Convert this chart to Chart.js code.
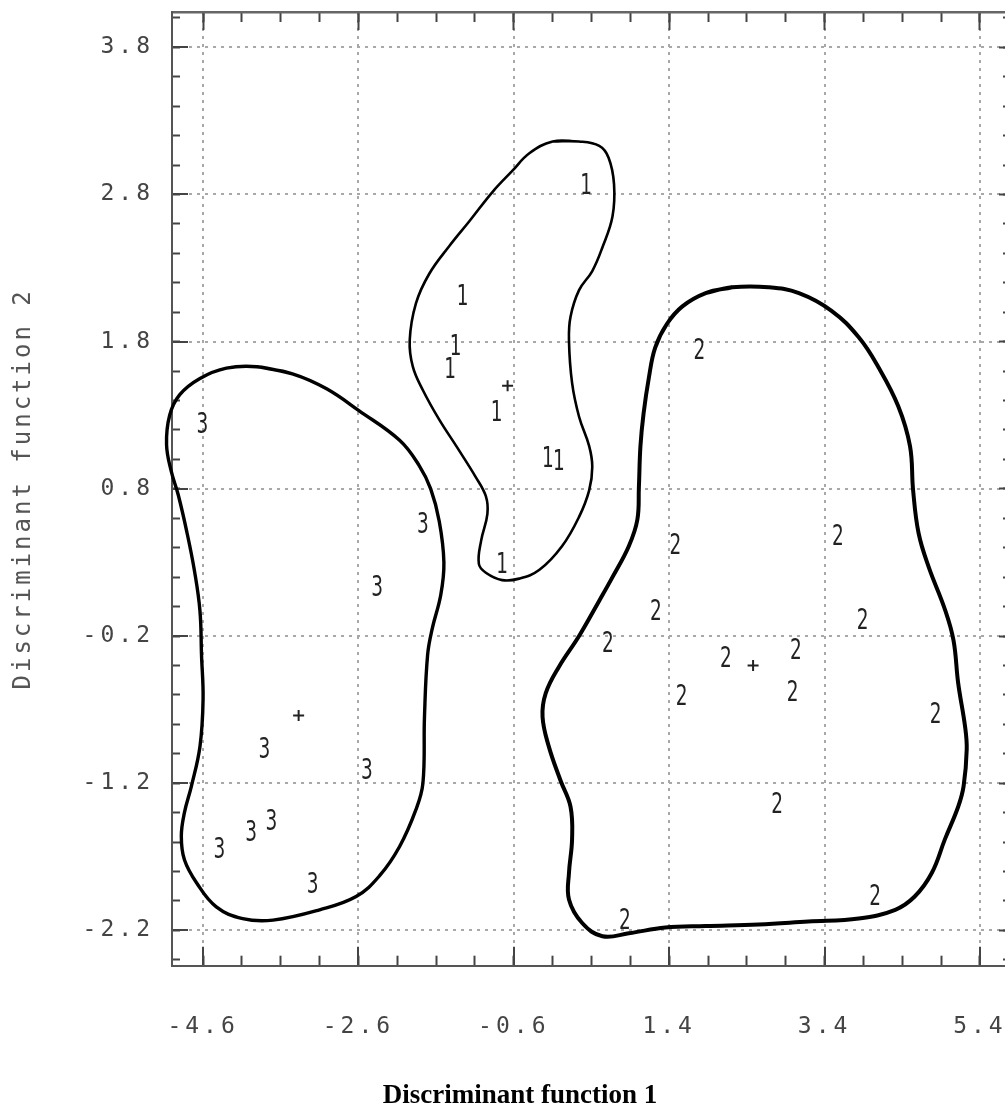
<!DOCTYPE html>
<html>
<head>
<meta charset="utf-8">
<script src="https://cdn.jsdelivr.net/npm/chart.js@4.4.1/dist/chart.umd.min.js"></script>
<style>
html, body { margin: 0; padding: 0; background: #ffffff; overflow: hidden; }
#wrap { position: relative; width: 1040px; height: 1108px; }
</style>
</head>
<body>
<div id="wrap"><canvas id="chart" width="1040" height="1108"></canvas></div>
<script>
// ---- axis ranges and ticks ----
const X_MIN = -5.0, X_MAX = 5.8;
const Y_MIN = -2.44, Y_MAX = 4.04;
const X_MAJOR_TICKS = [-4.6, -2.6, -0.6, 1.4, 3.4, 5.4];
const X_MINOR_TICKS = [-4.6, -4.1, -3.6, -3.1, -2.6, -2.1, -1.6, -1.1, -0.6, -0.1, 0.4, 0.9, 1.4, 1.9, 2.4, 2.9, 3.4, 3.9, 4.4, 4.9, 5.4];
const Y_MAJOR_TICKS = [-2.2, -1.2, -0.2, 0.8, 1.8, 2.8, 3.8];
const Y_MINOR_TICKS = [-2.4, -2.2, -2.0, -1.8, -1.6, -1.4, -1.2, -1.0, -0.8, -0.6, -0.4, -0.2, 0.0, 0.2, 0.4, 0.6, 0.8, 1.0, 1.2, 1.4, 1.6, 1.8, 2.0, 2.2, 2.4, 2.6, 2.8, 3.0, 3.2, 3.4, 3.6, 3.8, 4.0];
const X_TITLE = 'Discriminant function 1';
const Y_TITLE = 'Discriminant function 2';

// ---- group members (discriminant scores) ----
const GROUP_LABELS = ['1', '2', '3'];
const GROUP1_X = [0.33, -1.26, -1.35, -1.42, -0.82, -0.16, -0.02, -0.75];
const GROUP1_Y = [2.87, 2.12, 1.78, 1.62, 1.33, 1.02, 1.00, 0.30];
const GROUP2_X = [1.79, 3.57, 1.48, 1.23, 3.89, 0.61, 3.03, 2.13, 2.99, 1.56, 4.83, 2.79, 4.05, 0.83];
const GROUP2_Y = [1.75, 0.49, 0.43, -0.02, -0.08, -0.24, -0.29, -0.34, -0.57, -0.60, -0.72, -1.33, -1.96, -2.12];
const GROUP3_X = [-4.61, -1.77, -2.36, -3.81, -2.49, -3.72, -3.98, -4.39, -3.19];
const GROUP3_Y = [1.25, 0.57, 0.14, -0.96, -1.10, -1.45, -1.52, -1.64, -1.88];

// ---- group centroids ----
const CENTROID_X = [-0.68, 2.48, -3.37];
const CENTROID_Y = [1.50, -0.40, -0.74];

// ---- hand-drawn group boundaries ----
const BOUNDARY1_X = [-0.10, 0.24, 0.50, 0.62, 0.69, 0.67, 0.54, 0.41, 0.24, 0.13, 0.11, 0.15, 0.24, 0.37, 0.41, 0.37, 0.24, 0.02, -0.27, -0.53, -0.75, -0.96, -1.05, -1.02, -0.94, -0.96, -1.09, -1.34, -1.56, -1.77, -1.90, -1.94, -1.86, -1.69, -1.43, -1.17, -0.87, -0.62, -0.40];
const BOUNDARY1_Y = [3.16, 3.16, 3.13, 3.05, 2.87, 2.65, 2.44, 2.28, 2.15, 1.97, 1.81, 1.52, 1.29, 1.09, 0.95, 0.79, 0.61, 0.41, 0.25, 0.19, 0.18, 0.23, 0.29, 0.45, 0.63, 0.75, 0.88, 1.09, 1.27, 1.47, 1.63, 1.81, 2.06, 2.26, 2.45, 2.62, 2.82, 2.96, 3.08];
const BOUNDARY2_X = [1.87, 2.21, 2.68, 3.07, 3.49, 3.84, 4.09, 4.35, 4.50, 4.54, 4.61, 4.74, 4.95, 5.06, 5.12, 5.21, 5.23, 5.19, 5.12, 4.95, 4.78, 4.56, 4.31, 3.84, 3.19, 2.55, 1.87, 1.35, 0.88, 0.54, 0.28, 0.11, 0.11, 0.15, 0.13, 0.00, -0.15, -0.23, -0.19, -0.02, 0.24, 0.50, 0.67, 0.88, 0.99, 1.01, 1.03, 1.07, 1.14, 1.22, 1.37, 1.57];
const BOUNDARY2_Y = [2.13, 2.17, 2.17, 2.13, 2.01, 1.83, 1.63, 1.36, 1.09, 0.79, 0.50, 0.27, -0.02, -0.23, -0.52, -0.82, -0.97, -1.22, -1.36, -1.58, -1.81, -1.97, -2.06, -2.12, -2.14, -2.16, -2.17, -2.18, -2.22, -2.24, -2.15, -1.99, -1.81, -1.58, -1.36, -1.18, -0.95, -0.75, -0.59, -0.41, -0.20, 0.04, 0.20, 0.41, 0.59, 0.81, 1.09, 1.31, 1.56, 1.76, 1.92, 2.04];
const BOUNDARY3_X = [-3.91, -3.44, -3.01, -2.59, -2.07, -1.82, -1.67, -1.56, -1.50, -1.54, -1.65, -1.71, -1.75, -1.77, -1.86, -2.07, -2.33, -2.63, -3.10, -3.70, -4.09, -4.43, -4.68, -4.84, -4.88, -4.84, -4.75, -4.64, -4.60, -4.62, -4.64, -4.71, -4.81, -4.92, -5.01, -5.07, -5.03, -4.90, -4.64, -4.30];
const BOUNDARY3_Y = [1.63, 1.58, 1.48, 1.33, 1.13, 0.96, 0.80, 0.58, 0.30, 0.08, -0.15, -0.33, -0.75, -1.20, -1.38, -1.63, -1.83, -1.97, -2.06, -2.13, -2.12, -2.04, -1.88, -1.72, -1.56, -1.40, -1.22, -0.95, -0.63, -0.33, -0.03, 0.24, 0.51, 0.76, 0.92, 1.10, 1.30, 1.44, 1.55, 1.62];

// ---- helpers ----
function pointsOf(xs, ys) { return xs.map((x, i) => ({ x: x, y: ys[i] })); }
function closedLoop(xs, ys) {
  const p = pointsOf(xs, ys);
  return p.concat([p[0], p[1]]);
}
function fixedTicks(values) { return (scale) => { scale.ticks = values.map(v => ({ value: v })); }; }
function fixSize(w, h) {
  return (s) => {
    if (w !== null) s.width = w;
    if (h !== null) s.height = h;
    s.paddingLeft = 0; s.paddingRight = 0; s.paddingTop = 0; s.paddingBottom = 0;
  };
}

const MONO = '"DejaVu Sans Mono", "Liberation Mono", monospace';
const TICK_COLOR = '#444444';
const FRAME_COLOR = '#555555';
const GRID_COLOR = '#a8a8a8';

function boundaryDataset(label, xs, ys, width) {
  return {
    label: label,
    data: closedLoop(xs, ys),
    showLine: true,
    fill: false,
    borderColor: '#000000',
    borderWidth: width,
    tension: 0.4,
    capBezierPoints: false,
    pointRadius: 0,
    pointHoverRadius: 0,
    clip: false
  };
}
function markDataset(label, xs, ys) {
  return {
    label: label,
    data: pointsOf(xs, ys),
    pointRadius: 0,
    pointHoverRadius: 0,
    showLine: false,
    markText: label,
    clip: false
  };
}

// letter-spaced axis text like the old plotter font
function withSpacing(fn, spacing) {
  return function () {
    const c = this.ctx;
    const prev = c.letterSpacing;
    c.letterSpacing = spacing;
    fn.apply(this, arguments);
    c.letterSpacing = prev || '0px';
  };
}
const spacingPlugin = {
  id: 'spacing',
  beforeDraw(chart) {
    const x = chart.scales.x, y = chart.scales.y;
    if (x && !x._spaced) { x.drawLabels = withSpacing(x.drawLabels, '4px'); x._spaced = true; }
    if (y && !y._spaced) {
      y.drawLabels = withSpacing(y.drawLabels, '4px');
      y.drawTitle = withSpacing(y.drawTitle, '3px');
      y._spaced = true;
    }
  }
};

// draws the group number at each member's position
const textMarks = {
  id: 'textMarks',
  afterDatasetsDraw(chart) {
    const ctx = chart.ctx;
    const size = 28;
    chart.data.datasets.forEach((ds, i) => {
      if (!ds.markText) return;
      const meta = chart.getDatasetMeta(i);
      ctx.save();
      ctx.letterSpacing = '0px';
      ctx.font = size + 'px "DejaVu Sans", sans-serif';
      ctx.fillStyle = '#222222';
      ctx.textAlign = 'center';
      ctx.textBaseline = 'alphabetic';
      meta.data.forEach(el => {
        ctx.save();
        ctx.translate(el.x, el.y);
        ctx.scale(0.66, 1);
        ctx.fillText(ds.markText, 0, 0.3645 * size);
        ctx.restore();
      });
      ctx.restore();
    });
  }
};

const datasets = [
  boundaryDataset('Boundary 1', BOUNDARY1_X, BOUNDARY1_Y, 2.6),
  boundaryDataset('Boundary 2', BOUNDARY2_X, BOUNDARY2_Y, 4),
  boundaryDataset('Boundary 3', BOUNDARY3_X, BOUNDARY3_Y, 3.4),
  markDataset(GROUP_LABELS[0], GROUP1_X, GROUP1_Y),
  markDataset(GROUP_LABELS[1], GROUP2_X, GROUP2_Y),
  markDataset(GROUP_LABELS[2], GROUP3_X, GROUP3_Y),
  {
    label: 'Centroids',
    data: pointsOf(CENTROID_X, CENTROID_Y),
    pointStyle: 'cross',
    pointRadius: 5.5,
    pointHoverRadius: 5.5,
    pointBorderWidth: 2,
    pointBorderColor: '#222222',
    pointBackgroundColor: '#222222',
    showLine: false
  }
];

const tickOnlyGrid = (len) => ({
  drawOnChartArea: false, drawTicks: true, tickLength: len,
  tickColor: TICK_COLOR, tickWidth: 2, tickBorderDash: []
});

new Chart(document.getElementById('chart'), {
  type: 'scatter',
  data: { datasets: datasets },
  options: {
    responsive: false,
    maintainAspectRatio: false,
    animation: false,
    devicePixelRatio: 1,
    events: [],
    layout: { padding: 0 },
    elements: { line: { capBezierPoints: false } },
    plugins: {
      legend: { display: false },
      tooltip: { enabled: false },
      title: {
        display: true,
        position: 'bottom',
        text: X_TITLE,
        color: '#000000',
        font: { family: '"Liberation Serif", "Times New Roman", serif', size: 27, weight: 'bold', lineHeight: 0.9 },
        padding: { top: 0, bottom: 0 }
      }
    },
    scales: {
      x: {
        type: 'linear', position: 'bottom', weight: 1, min: X_MIN, max: X_MAX,
        afterBuildTicks: fixedTicks(X_MAJOR_TICKS),
        afterFit: fixSize(null, 118),
        ticks: { autoSkip: false, maxRotation: 0, minRotation: 0, padding: 67, color: TICK_COLOR,
                 font: { family: MONO, size: 23 }, callback: (v) => Number(v).toFixed(1) },
        grid: { color: GRID_COLOR, lineWidth: 2, drawOnChartArea: true,
                tickLength: -19, tickColor: TICK_COLOR, tickWidth: 2, tickBorderDash: [] },
        border: { display: true, color: FRAME_COLOR, width: 2, dash: [3, 5] }
      },
      xMinor: {
        type: 'linear', position: 'bottom', weight: 0, min: X_MIN, max: X_MAX,
        afterBuildTicks: fixedTicks(X_MINOR_TICKS),
        afterFit: fixSize(null, 0),
        ticks: { display: false },
        grid: tickOnlyGrid(-10),
        border: { display: false }
      },
      xTop: {
        type: 'linear', position: 'top', weight: 1, min: X_MIN, max: X_MAX,
        afterBuildTicks: fixedTicks(X_MAJOR_TICKS),
        afterFit: fixSize(null, 12),
        ticks: { display: false },
        grid: tickOnlyGrid(-18),
        border: { display: true, color: '#666666', width: 2.5 }
      },
      xTopMinor: {
        type: 'linear', position: 'top', weight: 0, min: X_MIN, max: X_MAX,
        afterBuildTicks: fixedTicks(X_MINOR_TICKS),
        afterFit: fixSize(null, 0),
        ticks: { display: false },
        grid: tickOnlyGrid(-10),
        border: { display: false }
      },
      y: {
        type: 'linear', position: 'left', weight: 1, min: Y_MIN, max: Y_MAX,
        afterBuildTicks: fixedTicks(Y_MAJOR_TICKS),
        afterFit: fixSize(172, null),
        ticks: { autoSkip: false, padding: 34, color: TICK_COLOR,
                 font: { family: MONO, size: 23 }, callback: (v) => Number(v).toFixed(1) },
        grid: { color: GRID_COLOR, lineWidth: 2, drawOnChartArea: true,
                tickLength: -16, tickColor: TICK_COLOR, tickWidth: 2, tickBorderDash: [] },
        border: { display: true, color: FRAME_COLOR, width: 2, dash: [3, 5] },
        title: { display: true, text: Y_TITLE, color: '#555555',
                 font: { family: MONO, size: 24, lineHeight: 1.2 }, padding: { top: 9, bottom: 0 } }
      },
      yMinor: {
        type: 'linear', position: 'left', weight: 0, min: Y_MIN, max: Y_MAX,
        afterBuildTicks: fixedTicks(Y_MINOR_TICKS),
        afterFit: fixSize(0, null),
        ticks: { display: false },
        grid: tickOnlyGrid(-8),
        border: { display: false }
      },
      yRight: {
        type: 'linear', position: 'right', weight: 1, min: Y_MIN, max: Y_MAX,
        afterBuildTicks: fixedTicks(Y_MAJOR_TICKS),
        afterFit: fixSize(29, null),
        ticks: { display: false },
        grid: tickOnlyGrid(-12),
        border: { display: true, color: FRAME_COLOR, width: 2 }
      },
      yRightMinor: {
        type: 'linear', position: 'right', weight: 0, min: Y_MIN, max: Y_MAX,
        afterBuildTicks: fixedTicks(Y_MINOR_TICKS),
        afterFit: fixSize(0, null),
        ticks: { display: false },
        grid: tickOnlyGrid(-8),
        border: { display: false }
      }
    }
  },
  plugins: [spacingPlugin, textMarks]
});
</script>
</body>
</html>
